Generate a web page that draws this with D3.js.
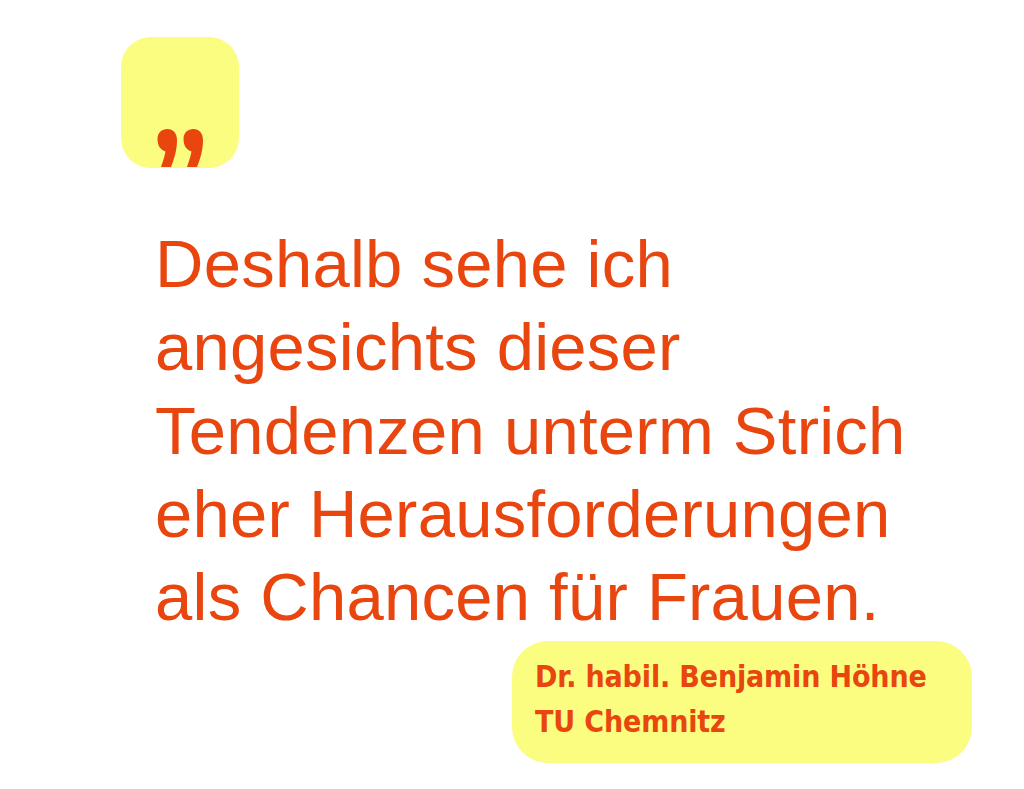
<!DOCTYPE html>
<html>
<head>
<meta charset="utf-8">
<script src="https://cdn.jsdelivr.net/npm/d3@7"></script>
<style>
  html, body { margin: 0; padding: 0; background: #fff; }
</style>
</head>
<body>
<div id="quote"></div>
<script>
// ── Content ──
const quoteLines = [
  'Deshalb sehe ich',
  'angesichts dieser',
  'Tendenzen unterm Strich',
  'eher Herausforderungen',
  'als Chancen für Frauen.'
];
const attributionLines = [
  'Dr. habil. Benjamin Höhne',
  'TU Chemnitz'
];

const ORANGE = '#e8450f';
const YELLOW = '#fafd7f';

const width = 1024, height = 789;

const svg = d3.select('#quote')
  .append('svg')
  .attr('width', width)
  .attr('height', height)
  .style('display', 'block');

// ── Quote-mark box ──
const box = { x: 121, y: 37, w: 118, h: 131, r: 30 };

svg.append('defs').append('clipPath')
  .attr('id', 'qclip')
  .append('rect')
  .attr('x', box.x).attr('y', box.y)
  .attr('width', box.w).attr('height', box.h)
  .attr('rx', box.r).attr('ry', box.r);

svg.append('rect')
  .attr('x', box.x).attr('y', box.y)
  .attr('width', box.w).attr('height', box.h)
  .attr('rx', box.r).attr('ry', box.r)
  .attr('fill', YELLOW);

// heavy comma shape, drawn twice for the closing quote
const comma = 'M0,10 C0,3.5 4.5,0 9.8,0 C15.8,0 19.5,4.5 19.5,11 ' +
  'C19.5,21 17,29 13.5,38 L3.5,38 C5.5,32 7,27.5 8,22.5 C3,21 0,16.5 0,10 Z';

svg.append('g')
  .attr('clip-path', 'url(#qclip)')
  .selectAll('path')
  .data([157.5, 183.5])
  .join('path')
  .attr('transform', d => `translate(${d},129)`)
  .attr('d', comma)
  .attr('fill', ORANGE);

// ── Quote body ──
const y = d3.scalePoint()
  .domain(d3.range(quoteLines.length))
  .range([287, 620]);

svg.append('g')
  .selectAll('text')
  .data(quoteLines)
  .join('text')
  .attr('x', 155)
  .attr('y', (d, i) => y(i))
  .attr('fill', ORANGE)
  .attr('font-family', '"Liberation Sans", Arial, sans-serif')
  .attr('font-size', 67)
  .attr('letter-spacing', 0.25)
  .text(d => d);

// ── Attribution box ──
svg.append('rect')
  .attr('x', 512).attr('y', 641)
  .attr('width', 460).attr('height', 122)
  .attr('rx', 36).attr('ry', 36)
  .attr('fill', YELLOW);

const ay = d3.scalePoint()
  .domain(d3.range(attributionLines.length))
  .range([687, 732]);

svg.append('g')
  .selectAll('text')
  .data(attributionLines)
  .join('text')
  .attr('x', 535)
  .attr('y', (d, i) => ay(i))
  .attr('fill', ORANGE)
  .attr('font-family', '"DejaVu Sans Condensed", "DejaVu Sans", sans-serif')
  .attr('font-weight', 'bold')
  .attr('font-size', 30)
  .attr('letter-spacing', -0.15)
  .text(d => d);
</script>
</body>
</html>
